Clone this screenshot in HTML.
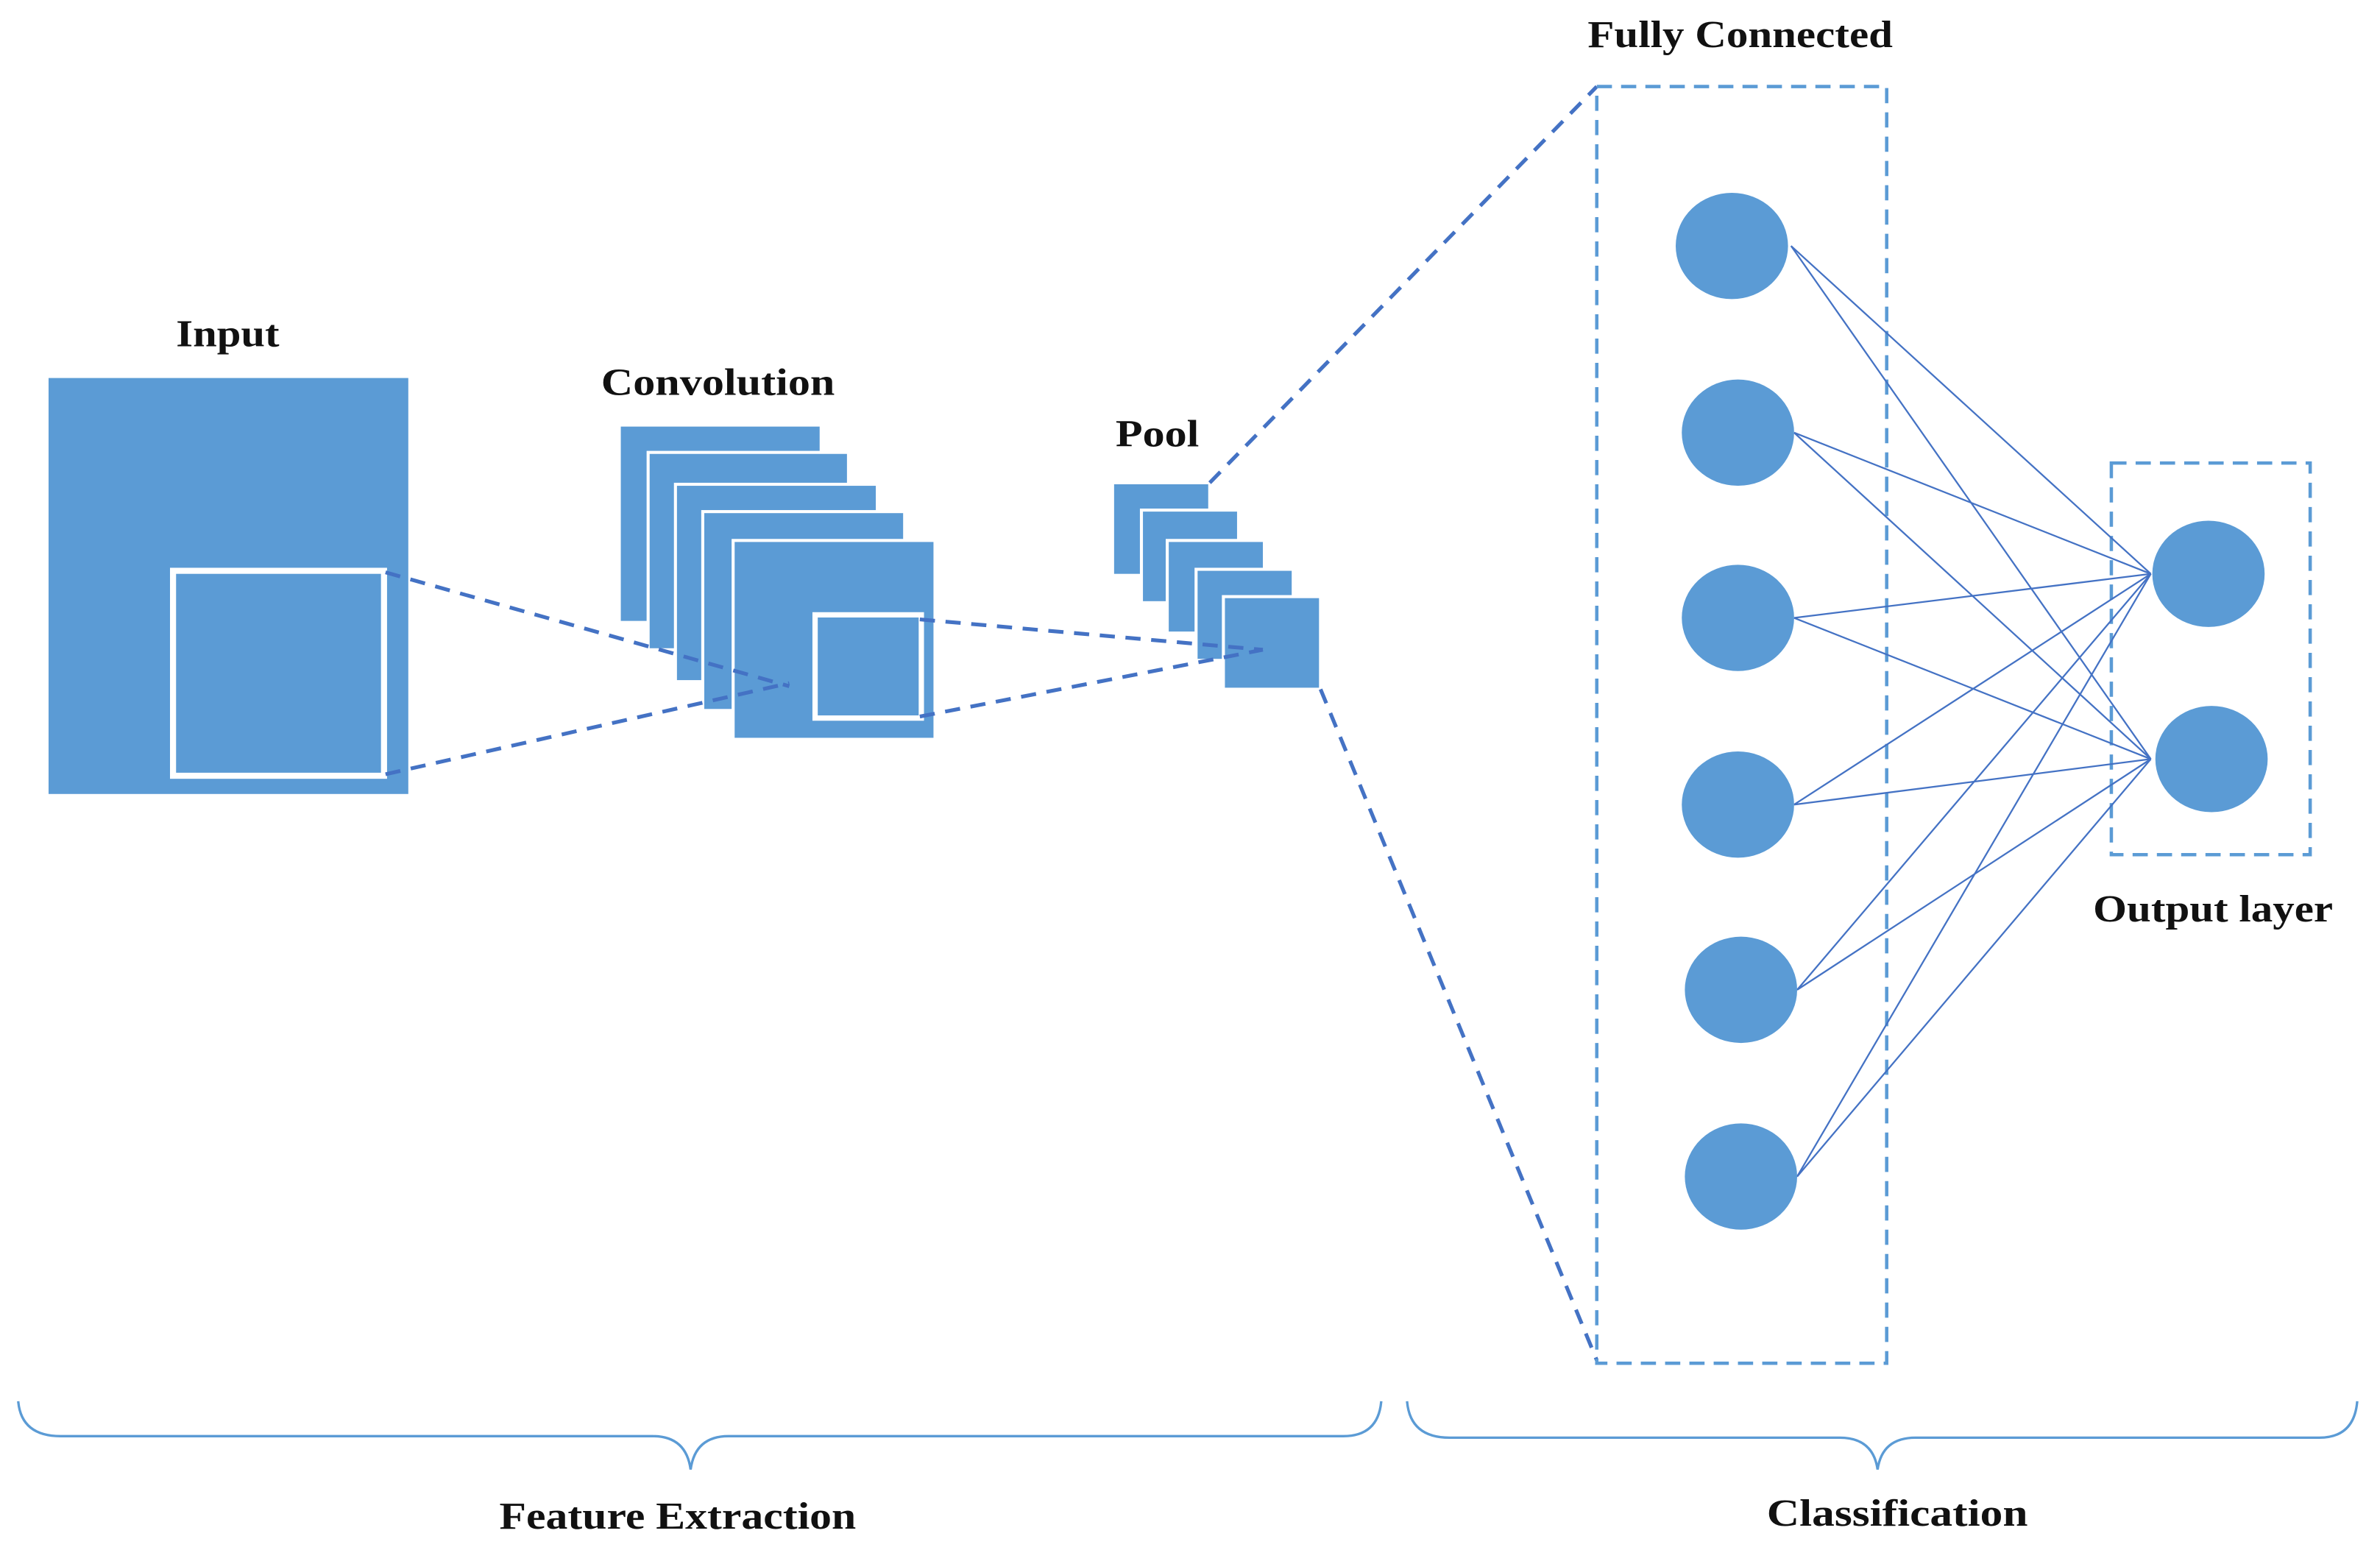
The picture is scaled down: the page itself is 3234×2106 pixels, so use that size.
<!DOCTYPE html>
<html><head><meta charset="utf-8"><style>
html,body{margin:0;padding:0;background:#fff;}
svg{display:block;}
text{font-family:"Liberation Serif","DejaVu Serif",serif;font-weight:bold;fill:#111;}
</style></head><body>
<svg width="3234" height="2106" viewBox="0 0 1568 1021" preserveAspectRatio="none" xmlns="http://www.w3.org/2000/svg">
<rect width="1568" height="1021" fill="#fff"/>
<g fill="#5b9bd5">
<rect x="32" y="249" width="237" height="274"/>
<g stroke="#fff" stroke-width="2">
<rect x="408" y="280" width="133" height="130"/>
<rect x="427" y="298" width="132" height="130"/>
<rect x="445" y="319" width="133" height="130"/>
<rect x="463" y="337" width="133" height="131"/>
<rect x="483" y="356" width="133" height="131"/>
<rect x="733" y="318" width="64" height="61"/>
<rect x="752" y="336" width="64" height="61"/>
<rect x="769" y="356" width="64" height="61"/>
<rect x="788" y="375" width="64" height="60"/>
<rect x="806" y="393" width="64" height="61"/>
</g>
</g>
<rect x="114" y="376" width="139" height="135" fill="none" stroke="#fff" stroke-width="4"/>
<rect x="537" y="405" width="70" height="68" fill="none" stroke="#fff" stroke-width="3.5"/>
<g stroke="#4472c4" stroke-width="2.5" stroke-dasharray="10,7" fill="none">
<line x1="254" y1="377" x2="520" y2="452"/>
<line x1="254" y1="510" x2="520" y2="450"/>
<line x1="606" y1="408" x2="832" y2="428"/>
<line x1="606" y1="472" x2="832" y2="428"/>
<line x1="797" y1="318" x2="1052" y2="57"/>
<line x1="870" y1="454" x2="1052" y2="896"/>
</g>
<g stroke="#5b9bd5" stroke-width="2.2" stroke-dasharray="10,6" fill="none">
<rect x="1052" y="57" width="191" height="841"/>
<rect x="1391" y="305" width="131" height="258"/>
</g>
<g stroke="#4472c4" stroke-width="1.1">
<line x1="1180" y1="162" x2="1417" y2="378"/><line x1="1180" y1="162" x2="1417" y2="500"/>
<line x1="1182" y1="285" x2="1417" y2="378"/><line x1="1182" y1="285" x2="1417" y2="500"/>
<line x1="1182" y1="407" x2="1417" y2="378"/><line x1="1182" y1="407" x2="1417" y2="500"/>
<line x1="1182" y1="530" x2="1417" y2="378"/><line x1="1182" y1="530" x2="1417" y2="500"/>
<line x1="1184" y1="652" x2="1417" y2="378"/><line x1="1184" y1="652" x2="1417" y2="500"/>
<line x1="1184" y1="775" x2="1417" y2="378"/><line x1="1184" y1="775" x2="1417" y2="500"/>
</g>
<g fill="#5b9bd5">
<ellipse cx="1141" cy="162" rx="37" ry="35"/>
<ellipse cx="1145" cy="285" rx="37" ry="35"/>
<ellipse cx="1145" cy="407" rx="37" ry="35"/>
<ellipse cx="1145" cy="530" rx="37" ry="35"/>
<ellipse cx="1147" cy="652" rx="37" ry="35"/>
<ellipse cx="1147" cy="775" rx="37" ry="35"/>
<ellipse cx="1455" cy="378" rx="37" ry="35"/>
<ellipse cx="1457" cy="500" rx="37" ry="35"/>
</g>
<g stroke="#5b9bd5" stroke-width="1.6" fill="none">
<path d="M12,923 Q14,946 40,946 L430,946 Q452,946 455,968 Q458,946 480,946 L885,946 Q908,946 910,923"/>
<path d="M927,923 Q929,947 955,947 L1212,947 Q1234,947 1237,968 Q1240,947 1262,947 L1528,947 Q1551,947 1553,923"/>
</g>
<g font-size="25">
<text x="116" y="228" textLength="68" lengthAdjust="spacingAndGlyphs">Input</text>
<text x="396" y="260" textLength="154" lengthAdjust="spacingAndGlyphs">Convolution</text>
<text x="735" y="294" textLength="55" lengthAdjust="spacingAndGlyphs">Pool</text>
<text x="1046" y="31" textLength="201" lengthAdjust="spacingAndGlyphs">Fully Connected</text>
<text x="1379" y="607" textLength="158" lengthAdjust="spacingAndGlyphs">Output layer</text>
<text x="329" y="1007" textLength="235" lengthAdjust="spacingAndGlyphs">Feature Extraction</text>
<text x="1164" y="1005" textLength="172" lengthAdjust="spacingAndGlyphs">Classification</text>
</g>
</svg>
</body></html>
